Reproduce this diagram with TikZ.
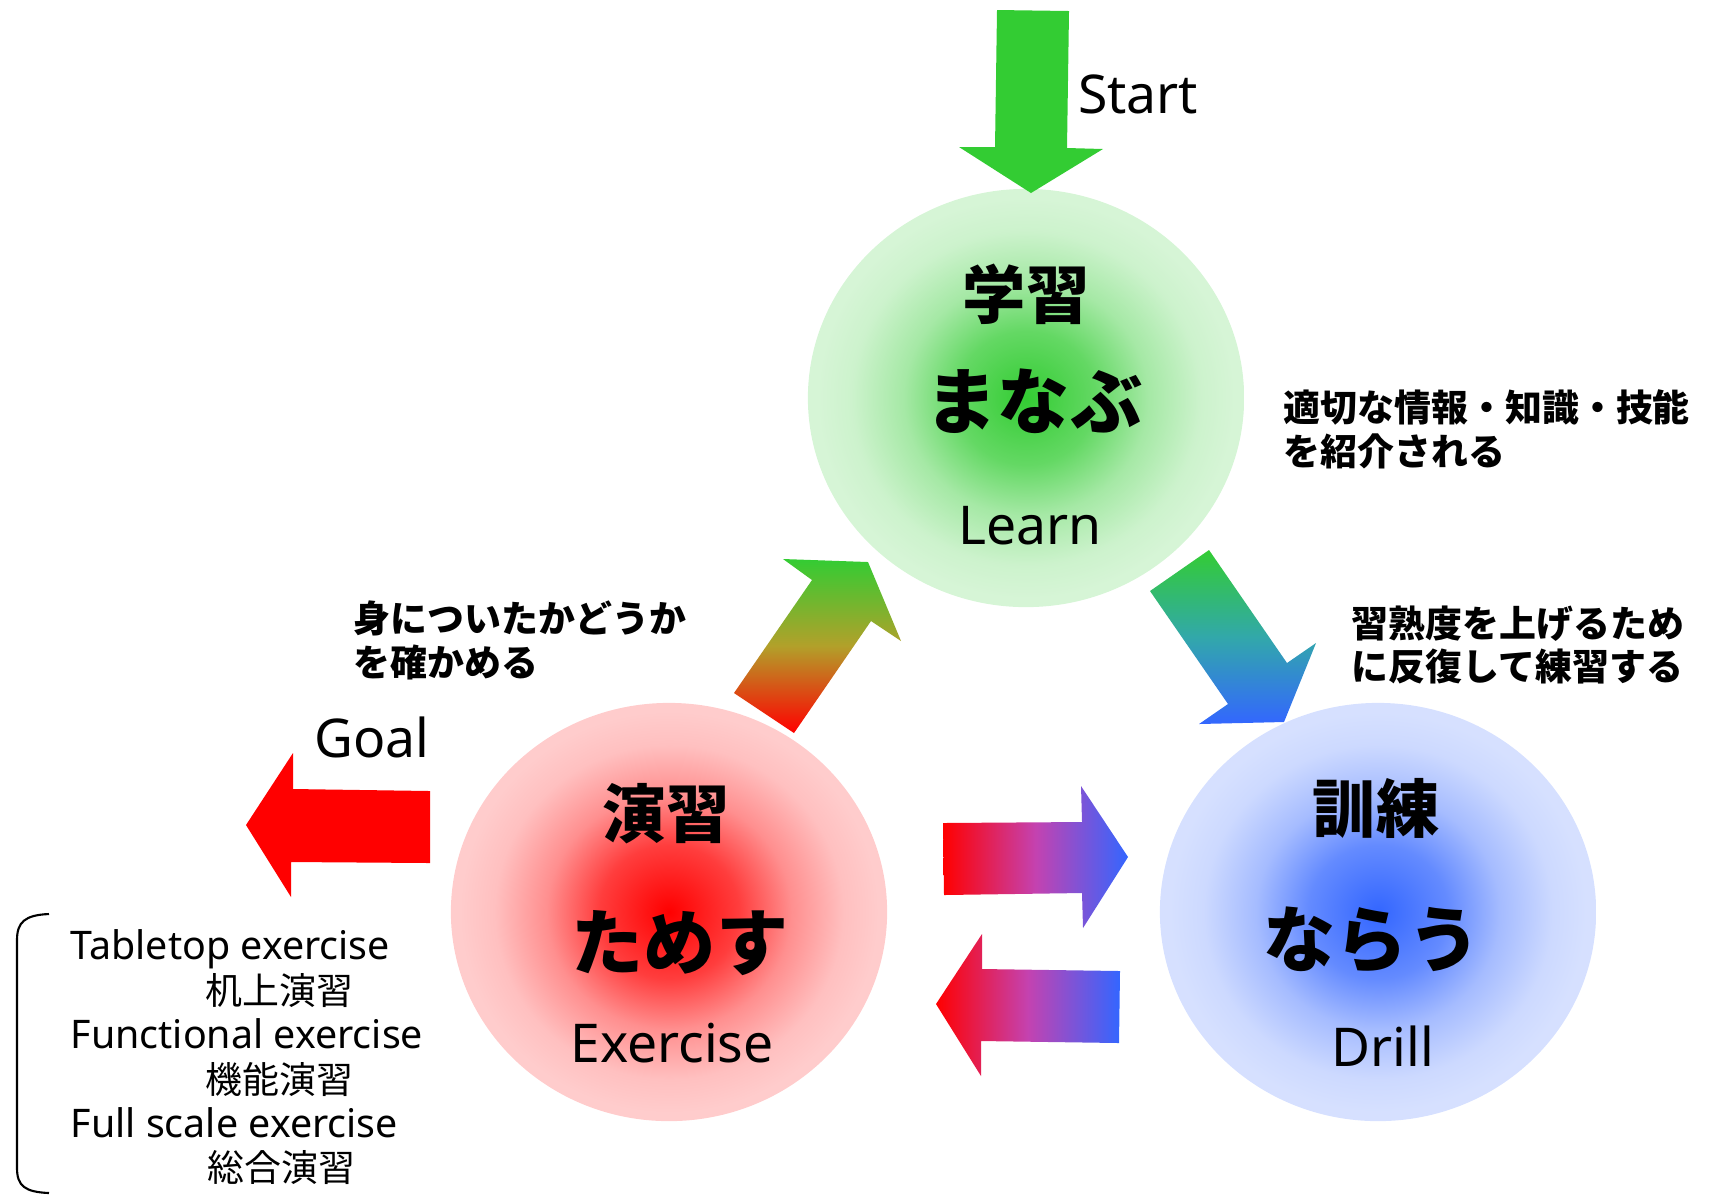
\documentclass[tikz,border=0pt]{standalone}
\usepackage{fontspec}
\setmainfont{Noto Sans}
\newfontfamily\jpfont{Noto Sans CJK JP}
\usetikzlibrary{shapes.geometric}

\definecolor{leafgreen}{RGB}{51,204,51}
\definecolor{brightred}{RGB}{255,0,0}
\definecolor{skyblue}{RGB}{51,102,255}
\definecolor{olivemid}{RGB}{178,160,42}
\definecolor{tealmid}{RGB}{50,168,170}
\definecolor{orchidmid}{RGB}{196,66,176}
\colorlet{greenpale}{leafgreen!20!white}
\colorlet{redpale}{brightred!20!white}
\colorlet{bluepale}{skyblue!20!white}
\colorlet{greenA}{leafgreen!70!greenpale}
\colorlet{greenB}{leafgreen!30!greenpale}
\colorlet{greenC}{leafgreen!6!greenpale}
\colorlet{redA}{brightred!70!redpale}
\colorlet{redB}{brightred!30!redpale}
\colorlet{redC}{brightred!6!redpale}
\colorlet{blueA}{skyblue!70!bluepale}
\colorlet{blueB}{skyblue!30!bluepale}
\colorlet{blueC}{skyblue!6!bluepale}

% soft glow for the three stages
\pgfdeclareradialshading{greenglow}{\pgfpointorigin}{color(0bp)=(leafgreen); color(8bp)=(greenA); color(14bp)=(greenB); color(20bp)=(greenC); color(24bp)=(greenpale); color(50bp)=(greenpale)}
\pgfdeclareradialshading{redglow}{\pgfpointorigin}{color(0bp)=(brightred); color(8bp)=(redA); color(14bp)=(redB); color(20bp)=(redC); color(24bp)=(redpale); color(50bp)=(redpale)}
\pgfdeclareradialshading{blueglow}{\pgfpointorigin}{color(0bp)=(skyblue); color(8bp)=(blueA); color(14bp)=(blueB); color(20bp)=(blueC); color(24bp)=(bluepale); color(50bp)=(bluepale)}

\tikzset{
	x=0.01cm, y=-0.01cm,
	stage/.style={ellipse, minimum width=4.36cm, minimum height=4.18cm, inner sep=0pt},
	kanjititle/.style={inner sep=0pt, font=\jpfont\bfseries\fontsize{18}{22}\selectfont},
	kanatitle/.style={inner sep=0pt, font=\jpfont\bfseries\fontsize{20.5}{24}\selectfont},
	entitle/.style={inner sep=0pt, anchor=base, font=\fontsize{15.2}{18}\selectfont},
	note/.style={inner sep=0pt, anchor=west, align=left, font=\jpfont\bfseries\fontsize{10.5}{12.5}\selectfont},
	listen/.style={inner sep=0pt, anchor=base west, font=\fontsize{11.2}{13}\selectfont},
	listjp/.style={inner sep=0pt, anchor=west, font=\jpfont\fontsize{10.5}{13}\selectfont},
	swap/.style={left color=brightred, right color=skyblue, middle color=orchidmid},
}

\begin{document}
\begin{tikzpicture}
	\useasboundingbox (0,0) rectangle (1710,1196);

	% stages
	\node[stage, shading=greenglow] (learn) at (1026,398) {};
	\node[stage, shading=redglow] (exercise) at (669,912) {};
	\node[stage, shading=blueglow] (drill) at (1378,912) {};

	% block arrows
	\fill[leafgreen] (997,10) -- (1069,11) -- (1067,148) -- (1103,149) -- (1031,193) -- (959,147) -- (995,147) -- cycle;
	\shade[bottom color=brightred, top color=leafgreen, middle color=olivemid] (734,693) -- (812,580) -- (783,559) -- (868,562) -- (901,641) -- (871,621) -- (794,733) -- cycle;
	\shade[top color=leafgreen, bottom color=skyblue, middle color=tealmid] (1209,550) -- (1287,663) -- (1316,643) -- (1284,722) -- (1199,724) -- (1228,704) -- (1150,591) -- cycle;
	\shade[swap] (943,823) -- (1082,822) -- (1081,786) -- (1128,857) -- (1083,928) -- (1082,893) -- (944,895) -- cycle;
	\shade[swap] (936,1004) -- (982,934) -- (982,969) -- (1120,971) -- (1119,1043) -- (981,1041) -- (981,1076) -- cycle;
	\fill[brightred] (246,825) -- (293,753) -- (293,789) -- (430,791) -- (430,863) -- (291,862) -- (291,897) -- cycle;

	% texts in the stages
	\node[kanjititle] (learnkanji) at (1026,294) {学習};
	\node[kanatitle] (learnkana) at (1034,401) {まなぶ};
	\node[entitle] (learnen) at (1030,544) {Learn};
	\node[kanjititle] (exercisekanji) at (666,814) {演習};
	\node[kanatitle] (exercisekana) at (680,943) {ためす};
	\node[entitle] (exerciseen) at (672,1062) {Exercise};
	\node[kanjititle] (drillkanji) at (1376,808) {訓練};
	\node[kanatitle] (drillkana) at (1372,940) {ならう};
	\node[entitle] (drillen) at (1383,1066) {Drill};

	\node[entitle] (start) at (1138,113) {Start};
	\node[entitle] (goal) at (372,757) {Goal};

	% notes
	\node[note] (learnnote) at (1283,429) {適切な情報・知識・技能\\を紹介される};
	\node[note] (drillnote) at (1351,645) {習熟度を上げるため\\に反復して練習する};
	\node[note] (exercisenote) at (353,640) {身についたかどうか\\を確かめる};

	% kinds of exercise
	\draw[line width=0.6pt] (49,914) .. controls (25,915) and (17,922) .. (17,940) -- (17,1168) .. controls (17,1186) and (25,1192) .. (49,1193);
	\node[listen] (tabletop) at (70,959) {Tabletop exercise};
	\node[listjp] (tabletopjp) at (205,990) {机上演習};
	\node[listen] (functional) at (70,1048) {Functional exercise};
	\node[listjp] (functionaljp) at (205,1079) {機能演習};
	\node[listen] (fullscale) at (70,1137) {Full scale exercise};
	\node[listjp] (fullscalejp) at (207,1167) {総合演習};
\end{tikzpicture}
\end{document}
